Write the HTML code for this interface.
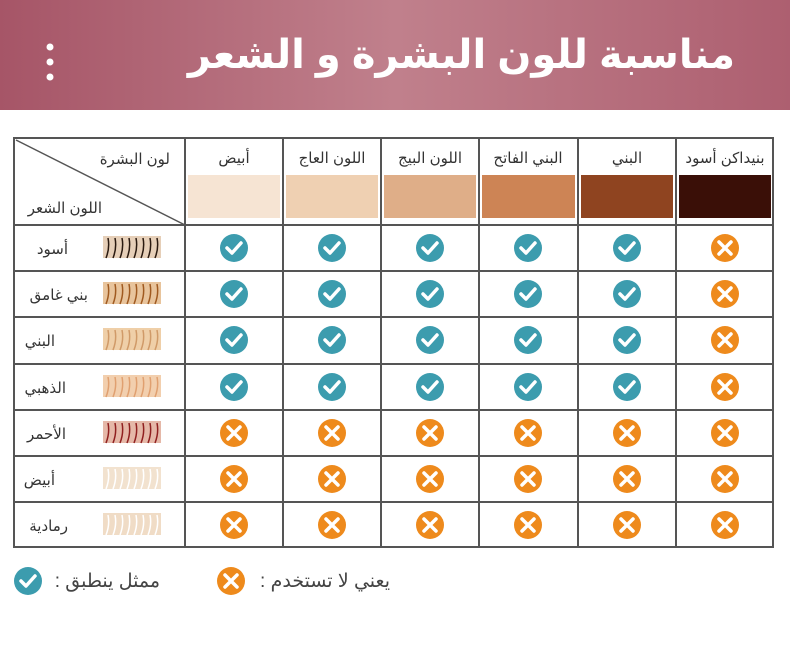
<!DOCTYPE html>
<html><head><meta charset="utf-8"><style>
body{margin:0;width:790px;height:646px;background:#fff;overflow:hidden;font-family:"Liberation Sans","Noto Sans CJK SC",sans-serif}
</style></head><body>
<svg width="790" height="646" xmlns="http://www.w3.org/2000/svg" font-family="Liberation Sans, DejaVu Sans, sans-serif">
<defs>
<linearGradient id="hg" x1="0" x2="1"><stop offset="0" stop-color="#a65567"/><stop offset="0.5" stop-color="#c0808c"/><stop offset="1" stop-color="#ad5f70"/></linearGradient>
<g id="ck"><circle r="14" fill="#3c9cae"/><path d="M-7,0 L-2,5 L7,-5" stroke="#fff" stroke-width="3.5" fill="none" stroke-linecap="round" stroke-linejoin="round"/></g>
<g id="xx"><circle r="14" fill="#ee8a1c"/><path d="M-6,-6 L6,6 M6,-6 L-6,6" stroke="#fff" stroke-width="3.5" stroke-linecap="round"/></g>
</defs>
<rect x="0" y="0" width="790" height="110" fill="url(#hg)"/>
<text x="735" y="68" text-anchor="start" font-size="40" font-weight="bold" fill="#fff" direction="rtl">مناسبة للون البشرة و الشعر</text>
<circle cx="50" cy="47" r="3.5" fill="#fff"/><circle cx="50" cy="62" r="3.5" fill="#fff"/><circle cx="50" cy="77" r="3.5" fill="#fff"/>
<g stroke="#555" stroke-width="2" fill="none">
<rect x="14" y="138" width="759" height="409"/>
<line x1="185" y1="138" x2="185" y2="547"/><line x1="283" y1="138" x2="283" y2="547"/><line x1="381" y1="138" x2="381" y2="547"/><line x1="479" y1="138" x2="479" y2="547"/><line x1="578" y1="138" x2="578" y2="547"/><line x1="676" y1="138" x2="676" y2="547"/>
<line x1="14" y1="225" x2="773" y2="225"/><line x1="14" y1="271" x2="773" y2="271"/><line x1="14" y1="317" x2="773" y2="317"/><line x1="14" y1="364" x2="773" y2="364"/><line x1="14" y1="410" x2="773" y2="410"/><line x1="14" y1="456" x2="773" y2="456"/><line x1="14" y1="502" x2="773" y2="502"/>
<line x1="16" y1="140" x2="185" y2="225" stroke-width="1.5"/>
</g>
<g font-size="15" fill="#333" text-anchor="middle" direction="rtl">
<text x="170" y="164" text-anchor="start">لون البشرة</text>
<text x="102" y="213" text-anchor="start">اللون الشعر</text>
<text x="234" y="163">أبيض</text><text x="332" y="163">اللون العاج</text><text x="430" y="163">اللون البيج</text><text x="528" y="163">البني الفاتح</text><text x="627" y="163">البني</text><text x="725" y="163">بنيداكن أسود</text>
</g>
<rect x="188" y="175" width="92" height="43" fill="#f6e4d3"/>
<rect x="286" y="175" width="92" height="43" fill="#efd0b2"/>
<rect x="384" y="175" width="92" height="43" fill="#dfae88"/>
<rect x="482" y="175" width="93" height="43" fill="#cd8455"/>
<rect x="581" y="175" width="92" height="43" fill="#8f4420"/>
<rect x="679" y="175" width="92" height="43" fill="#3a0f07"/>
<g font-size="15" fill="#333" text-anchor="start" direction="rtl">
<text x="68" y="254">أسود</text><text x="88" y="300">بني غامق</text><text x="55" y="346">البني</text><text x="66" y="393">الذهبي</text><text x="66" y="439">الأحمر</text><text x="55" y="485">أبيض</text><text x="68" y="531">رمادية</text>
</g>
<g>
<rect x="103" y="236" width="58" height="22" fill="#e6cfb8"/><rect x="103" y="282" width="58" height="22" fill="#e8c49c"/><rect x="103" y="328" width="58" height="22" fill="#efcfa8"/><rect x="103" y="375" width="58" height="22" fill="#f2cfae"/><rect x="103" y="421" width="58" height="22" fill="#e5b8a8"/><rect x="103" y="467" width="58" height="22" fill="#f2e2cf"/><rect x="103" y="513" width="58" height="22" fill="#f0dcc6"/>
<g fill="none" stroke-width="1.5">
<path stroke="#2a1a10" d="M106,258 q4,-10 2,-20 M113,258 q4,-10 2,-20 M120,258 q4,-10 2,-20 M127,258 q4,-10 2,-20 M134,258 q4,-10 2,-20 M141,258 q4,-10 2,-20 M148,258 q4,-10 2,-20 M155,258 q4,-10 2,-20"/>
<path stroke="#a05a20" d="M106,304 q4,-10 2,-20 M113,304 q4,-10 2,-20 M120,304 q4,-10 2,-20 M127,304 q4,-10 2,-20 M134,304 q4,-10 2,-20 M141,304 q4,-10 2,-20 M148,304 q4,-10 2,-20 M155,304 q4,-10 2,-20"/>
<path stroke="#d09a68" d="M106,350 q4,-10 2,-20 M113,350 q4,-10 2,-20 M120,350 q4,-10 2,-20 M127,350 q4,-10 2,-20 M134,350 q4,-10 2,-20 M141,350 q4,-10 2,-20 M148,350 q4,-10 2,-20 M155,350 q4,-10 2,-20"/>
<path stroke="#e0a070" d="M106,397 q4,-10 2,-20 M113,397 q4,-10 2,-20 M120,397 q4,-10 2,-20 M127,397 q4,-10 2,-20 M134,397 q4,-10 2,-20 M141,397 q4,-10 2,-20 M148,397 q4,-10 2,-20 M155,397 q4,-10 2,-20"/>
<path stroke="#902020" d="M106,443 q4,-10 2,-20 M113,443 q4,-10 2,-20 M120,443 q4,-10 2,-20 M127,443 q4,-10 2,-20 M134,443 q4,-10 2,-20 M141,443 q4,-10 2,-20 M148,443 q4,-10 2,-20 M155,443 q4,-10 2,-20"/>
<path stroke="#fff" d="M106,489 q4,-10 2,-20 M113,489 q4,-10 2,-20 M120,489 q4,-10 2,-20 M127,489 q4,-10 2,-20 M134,489 q4,-10 2,-20 M141,489 q4,-10 2,-20 M148,489 q4,-10 2,-20 M155,489 q4,-10 2,-20"/>
<path stroke="#fff" d="M106,535 q4,-10 2,-20 M113,535 q4,-10 2,-20 M120,535 q4,-10 2,-20 M127,535 q4,-10 2,-20 M134,535 q4,-10 2,-20 M141,535 q4,-10 2,-20 M148,535 q4,-10 2,-20 M155,535 q4,-10 2,-20"/>
</g></g>
<g>
<use href="#ck" x="234" y="248"/><use href="#ck" x="332" y="248"/><use href="#ck" x="430" y="248"/><use href="#ck" x="528" y="248"/><use href="#ck" x="627" y="248"/><use href="#xx" x="725" y="248"/>
<use href="#ck" x="234" y="294"/><use href="#ck" x="332" y="294"/><use href="#ck" x="430" y="294"/><use href="#ck" x="528" y="294"/><use href="#ck" x="627" y="294"/><use href="#xx" x="725" y="294"/>
<use href="#ck" x="234" y="340"/><use href="#ck" x="332" y="340"/><use href="#ck" x="430" y="340"/><use href="#ck" x="528" y="340"/><use href="#ck" x="627" y="340"/><use href="#xx" x="725" y="340"/>
<use href="#ck" x="234" y="387"/><use href="#ck" x="332" y="387"/><use href="#ck" x="430" y="387"/><use href="#ck" x="528" y="387"/><use href="#ck" x="627" y="387"/><use href="#xx" x="725" y="387"/>
<use href="#xx" x="234" y="433"/><use href="#xx" x="332" y="433"/><use href="#xx" x="430" y="433"/><use href="#xx" x="528" y="433"/><use href="#xx" x="627" y="433"/><use href="#xx" x="725" y="433"/>
<use href="#xx" x="234" y="479"/><use href="#xx" x="332" y="479"/><use href="#xx" x="430" y="479"/><use href="#xx" x="528" y="479"/><use href="#xx" x="627" y="479"/><use href="#xx" x="725" y="479"/>
<use href="#xx" x="234" y="525"/><use href="#xx" x="332" y="525"/><use href="#xx" x="430" y="525"/><use href="#xx" x="528" y="525"/><use href="#xx" x="627" y="525"/><use href="#xx" x="725" y="525"/>
<use href="#ck" x="28" y="581"/><use href="#xx" x="231" y="581"/>
</g>
<g font-size="19" fill="#444" direction="rtl">
<text x="160" y="587" text-anchor="start">ممثل ينطبق :</text>
<text x="390" y="587" text-anchor="start">يعني لا تستخدم :</text>
</g>
</svg>
</body></html>
